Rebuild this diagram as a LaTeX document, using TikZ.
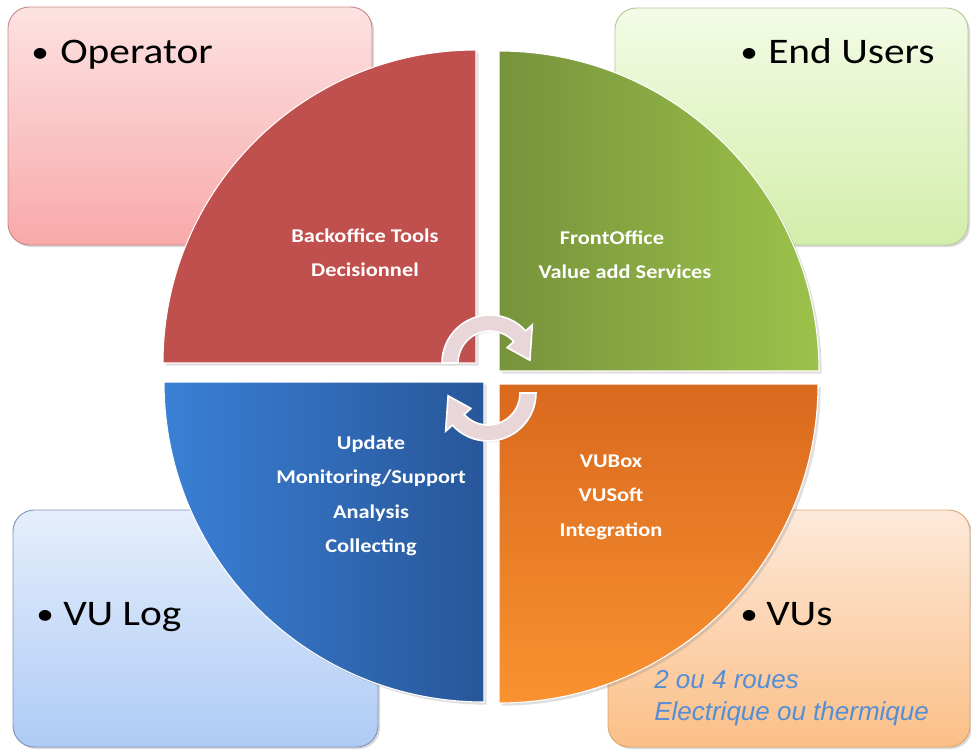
\documentclass[tikz,border=0pt]{standalone}
\usepackage{fontspec}
\setmainfont{Carlito}
\newfontfamily\labfont[FakeStretch=1.15]{Carlito}
\newfontfamily\arialfont{Liberation Sans}
\usetikzlibrary{shadows}
\definecolor{redq}{HTML}{C0504D}
\definecolor{greenL}{HTML}{77933C}
\definecolor{greenR}{HTML}{9CC24A}
\definecolor{blueL}{HTML}{3A80D6}
\definecolor{blueR}{HTML}{285699}
\definecolor{orT}{HTML}{D9691E}
\definecolor{orB}{HTML}{FA9230}
\definecolor{opT}{HTML}{FDE2E2}
\definecolor{opB}{HTML}{F8A9A9}
\definecolor{opD}{HTML}{C58A8A}
\definecolor{euT}{HTML}{F3FBE6}
\definecolor{euB}{HTML}{D3EEAA}
\definecolor{euD}{HTML}{B5C99A}
\definecolor{vlT}{HTML}{E5EEFC}
\definecolor{vlB}{HTML}{AECBF5}
\definecolor{vlD}{HTML}{7F95B8}
\definecolor{vuT}{HTML}{FDE9DA}
\definecolor{vuB}{HTML}{FBBF87}
\definecolor{vuD}{HTML}{D9A66F}
\definecolor{arrowfill}{HTML}{E9D6D8}
\definecolor{note}{HTML}{558ED5}
\tikzset{
  outerbox/.style={rounded corners=16pt, line width=0.7pt,
    drop shadow={opacity=0.3, shadow xshift=1.5pt, shadow yshift=-1.5pt}},
  quarter/.style={draw=white, line width=0.8pt,
    drop shadow={opacity=0.25, shadow xshift=2pt, shadow yshift=-2pt}},
  cyclearrow/.style={fill=arrowfill, draw=white, line width=1.2pt,
    drop shadow={opacity=0.2, shadow xshift=1pt, shadow yshift=-1pt}},
  biglabel/.style={inner sep=0pt, anchor=base west, font=\labfont\fontsize{27}{32}\selectfont, text=black},
  bulletlabel/.style={inner sep=0pt, anchor=base west, font=\labfont\fontsize{23}{28}\selectfont, text=black},
  innertext/.style={inner sep=0pt, align=center, text=white,
    font=\labfont\bfseries\fontsize{14.6}{25.8}\selectfont},
  notetext/.style={inner sep=0pt, anchor=base west, text=note,
    font=\arialfont\itshape\fontsize{19.5}{24}\selectfont}
}
\begin{document}
\begin{tikzpicture}[x=0.75pt, y=-0.75pt]
\useasboundingbox (0,0) rectangle (971,751);
% outer boxes
\path[outerbox, draw=opD, top color=opT, bottom color=opB] (8,7) rectangle (372,245);
\path[outerbox, draw=euD, top color=euT, bottom color=euB] (615,8) rectangle (968,245);
\path[outerbox, draw=vlD, top color=vlT, bottom color=vlB] (13,510) rectangle (378,747);
\path[outerbox, draw=vuD, top color=vuT, bottom color=vuB] (608,510) rectangle (970,747);
% quarter circles
\path[quarter, fill=redq] (476,363) -- (163,363) arc[start angle=180, end angle=270, radius=313] -- cycle;
\path[quarter, left color=greenL, right color=greenR] (499,371) -- (499,51) arc[start angle=270, end angle=360, radius=320] -- cycle;
\path[quarter, left color=blueL, right color=blueR] (484,382) -- (164,382) arc[start angle=180, end angle=90, radius=320] -- cycle;
\path[quarter, top color=orT, bottom color=orB] (499,384) -- (818,384) arc[start angle=0, end angle=90, radius=319] -- cycle;
% cycle arrows
\begin{scope}[shift={(490,363)}]
\path[cyclearrow] (180:48) arc[start angle=180, end angle=318, radius=48] -- (318:57) -- (356:40) -- (318:23) -- (318:32) arc[start angle=318, end angle=180, radius=32] -- cycle;
\end{scope}
\begin{scope}[shift={(488,393)}, rotate=180]
\path[cyclearrow] (180:48) arc[start angle=180, end angle=318, radius=48] -- (318:57) -- (356:40) -- (318:23) -- (318:32) arc[start angle=318, end angle=180, radius=32] -- cycle;
\end{scope}
% outer labels
\node[bulletlabel] (opb) at (31,62) {•};
\node[biglabel] (op) at (60,63) {Operator};
\node[bulletlabel] (eub) at (740,62) {•};
\node[biglabel] (eu) at (768,63) {End Users};
\node[bulletlabel] (vlb) at (36,624) {•};
\node[biglabel] (vl) at (63,625) {VU Log};
\node[bulletlabel] (vub) at (740,624) {•};
\node[biglabel] (vu) at (766,625) {VUs};
% inner texts
\node[innertext] (back) at (365,253) {Backoffice Tools\\Decisionnel};
\node[innertext] (front1) at (612,238) {FrontOffice};
\node[innertext] (front2) at (625,272) {Value add Services};
\node[innertext] (upd) at (371,496) {Update\\Monitoring/Support\\Analysis\\Collecting};
\node[innertext] (vubox) at (611,497) {VUBox\\VUSoft\\Integration};
% notes
\node[notetext] (n1) at (654,688) {2 ou 4 roues};
\node[notetext] (n2) at (654,720) {Electrique ou thermique};
\end{tikzpicture}
\end{document}
